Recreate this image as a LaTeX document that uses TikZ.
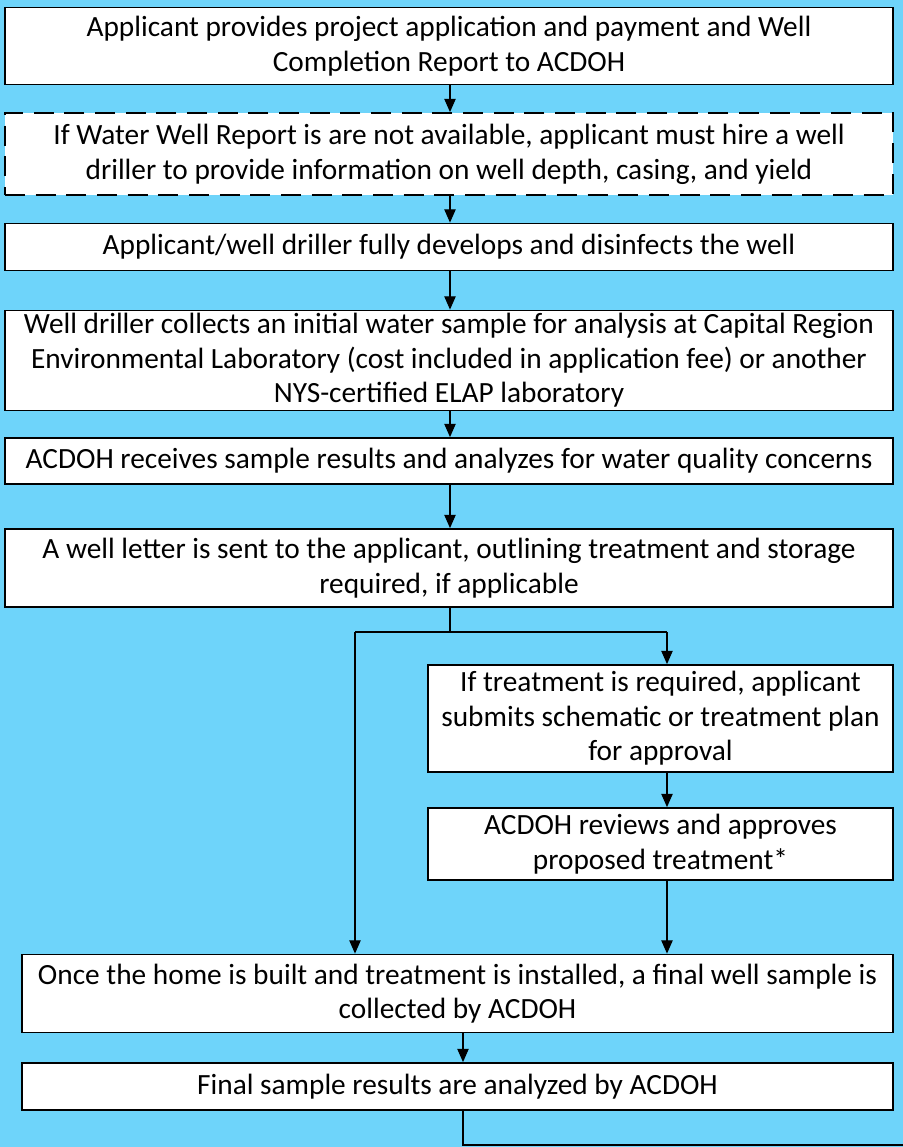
\documentclass[tikz,border=0pt]{standalone}
\usepackage{fontspec}
\setmainfont{Carlito}
\usetikzlibrary{arrows.meta,calc,positioning}
\definecolor{skyblue}{RGB}{110,212,250}
\tikzstyle{box} = [rectangle, draw=black, fill=white, line width=1.3pt, align=center, inner sep=0pt, font=\fontsize{22}{26}\selectfont]
\tikzstyle{flow} = [line width=1pt, -{Triangle[length=10pt,width=8.5pt]}]
\tikzstyle{wire} = [line width=1pt]

\begin{document}
\begin{tikzpicture}[x=0.75pt,y=-0.75pt]
\fill[skyblue] (0,0) rectangle (903,1147);
\useasboundingbox (0,0) rectangle (903,1147);
% main column
\node (b1) [box, minimum width=666pt, minimum height=57.75pt] at (449,46) {Applicant provides project application and payment and Well\\Completion Report to ACDOH};
\node (b2) [box, dash pattern=on 15pt off 8pt, minimum width=666pt, minimum height=61.5pt] at (449,154) {If Water Well Report is are not available, applicant must hire a well\\driller to provide information on well depth, casing, and yield};
\node (b3) [box, minimum width=666pt, minimum height=35.25pt] at (449,247) {Applicant/well driller fully develops and disinfects the well};
\node (b4) [box, minimum width=666pt, minimum height=75pt] at (449,360.5) {Well driller collects an initial water sample for analysis at Capital Region\\Environmental Laboratory (cost included in application fee) or another\\NYS-certified ELAP laboratory};
\node (b5) [box, minimum width=666pt, minimum height=34.5pt] at (449,461) {ACDOH receives sample results and analyzes for water quality concerns};
\node (b6) [box, minimum width=666pt, minimum height=58.5pt] at (449,568) {A well letter is sent to the applicant, outlining treatment and storage\\required, if applicable};
% treatment branch
\node (b7) [box, minimum width=348.75pt, minimum height=80.25pt] at (660.5,718.5) {If treatment is required, applicant\\submits schematic or treatment plan\\for approval};
\node (b8) [box, minimum width=348.75pt, minimum height=54pt] at (660.5,844) {ACDOH reviews and approves\\proposed treatment*};
% final steps
\node (b9) [box, minimum width=653.25pt, minimum height=58.5pt] at (457.5,993.5) {Once the home is built and treatment is installed, a final well sample is\\collected by ACDOH};
\node (b10) [box, minimum width=653.25pt, minimum height=35.25pt] at (457.5,1086.5) {Final sample results are analyzed by ACDOH};

\coordinate (split) at (450,632);
\coordinate (lft) at (355,632);
\coordinate (rgt) at (667,632);
\coordinate (tail) at (463,1145);
\coordinate (out) at (903,1145);

\draw[flow] (b1.south -| split) -- (b2.north -| split);
\draw[flow] (b2.south -| split) -- (b3.north -| split);
\draw[flow] (b3.south -| split) -- (b4.north -| split);
\draw[flow] (b4.south -| split) -- (b5.north -| split);
\draw[flow] (b5.south -| split) -- (b6.north -| split);
\draw[wire] (b6.south -| split) -- (split);
\draw[wire] (lft) -- (rgt);
\draw[flow] (rgt) -- (rgt |- b7.north);
\draw[flow] (rgt |- b7.south) -- (rgt |- b8.north);
\draw[flow] (rgt |- b8.south) -- (rgt |- b9.north);
\draw[flow] (lft) -- (lft |- b9.north);
\draw[flow] (b9.south -| tail) -- (b10.north -| tail);
\draw[wire] (b10.south -| tail) -- (tail) -- (out);
\end{tikzpicture}
\end{document}
